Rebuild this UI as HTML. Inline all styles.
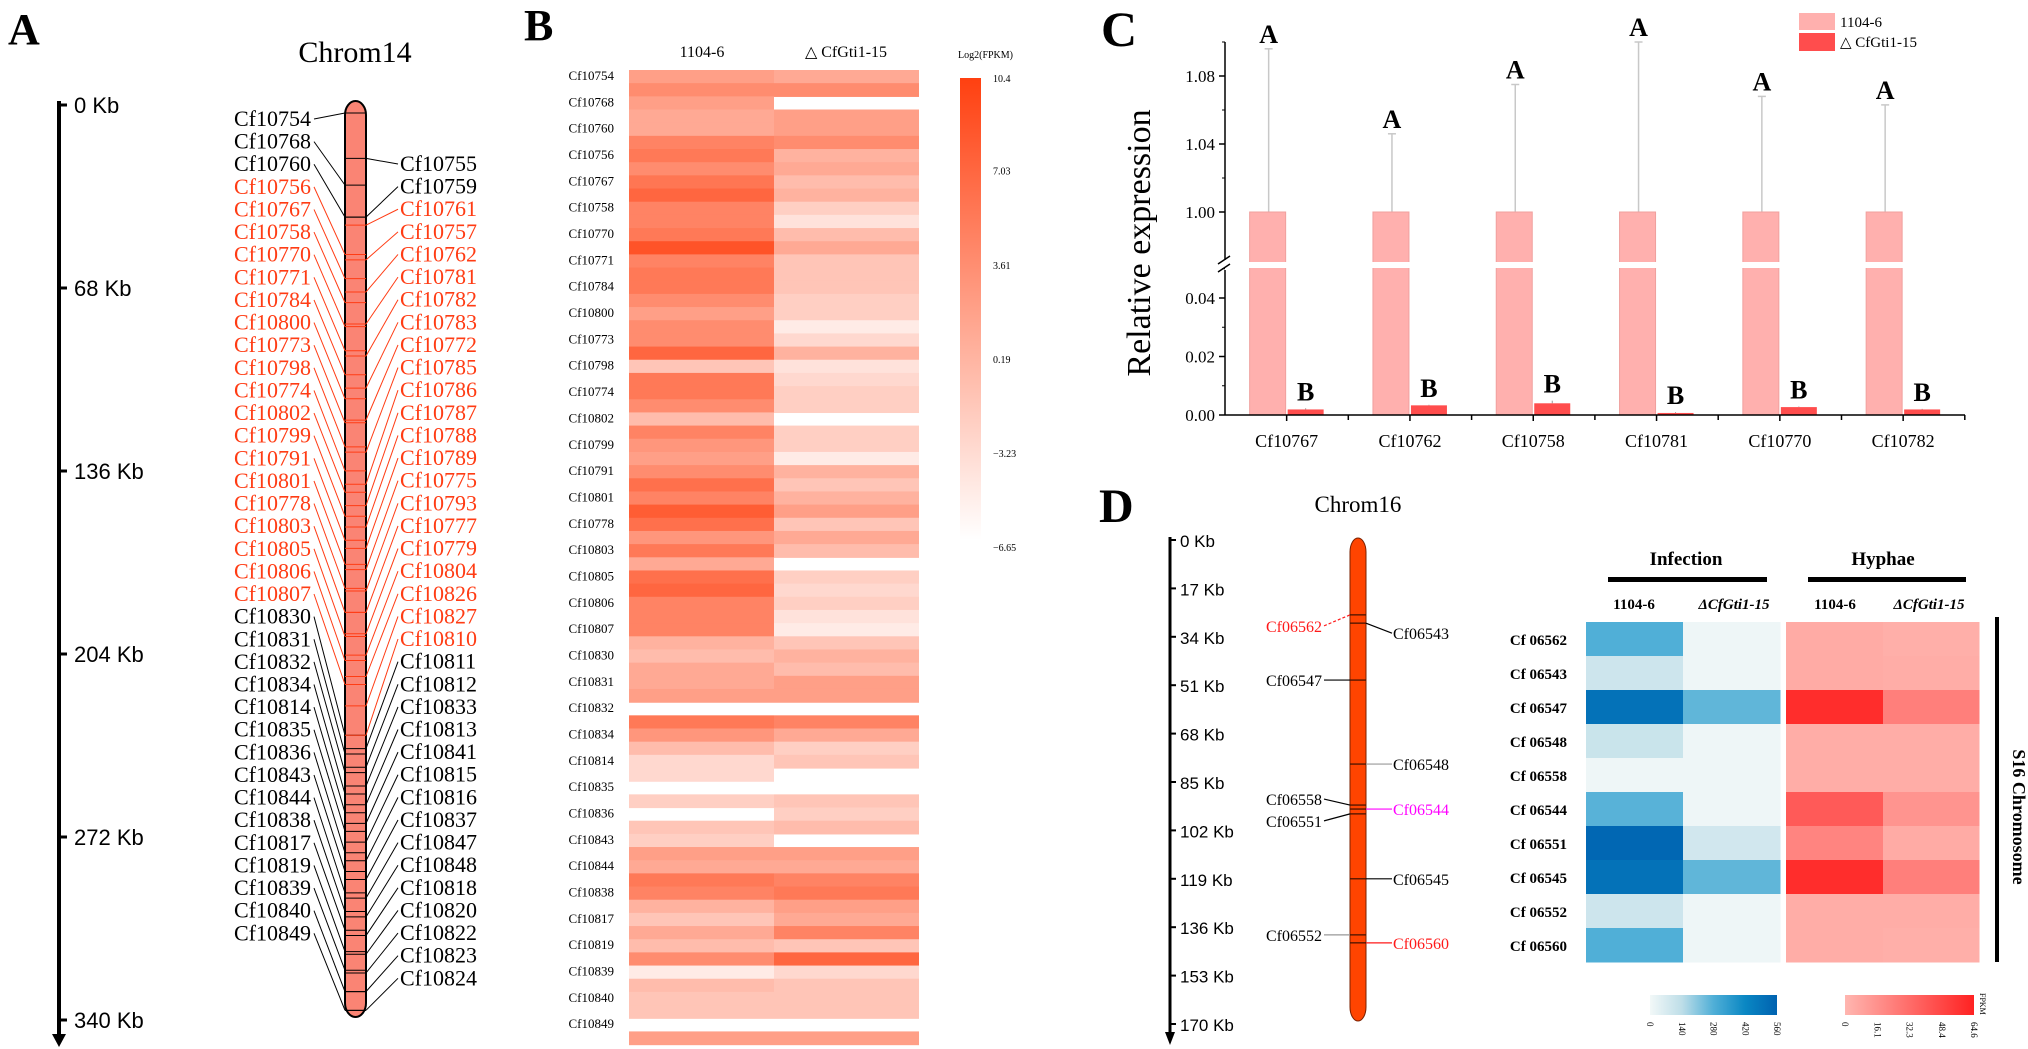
<!DOCTYPE html>
<html><head><meta charset="utf-8"><title>Chromosome gene cluster figure</title>
<style>
html,body{margin:0;padding:0;background:#fff;}
svg{display:block;font-family:"Liberation Serif",serif;}
.sans{font-family:"Liberation Sans","DejaVu Sans",sans-serif;}
</style></head>
<body>
<svg id="fig" width="2028" height="1049" viewBox="0 0 2028 1049" xmlns="http://www.w3.org/2000/svg">
<rect width="2028" height="1049" fill="#fff"/>
<g id="pA"></g>
<g id="pB"></g>
<g id="pC"></g>
<g id="pD"></g>
</svg>
<script>
// ---------- Panel A data ----------
const aTicks = [0, 68, 136, 204, 272, 340];
const aLeftGenes = ["Cf10754","Cf10768","Cf10760","Cf10756","Cf10767","Cf10758","Cf10770","Cf10771","Cf10784","Cf10800","Cf10773","Cf10798","Cf10774","Cf10802","Cf10799","Cf10791","Cf10801","Cf10778","Cf10803","Cf10805","Cf10806","Cf10807","Cf10830","Cf10831","Cf10832","Cf10834","Cf10814","Cf10835","Cf10836","Cf10843","Cf10844","Cf10838","Cf10817","Cf10819","Cf10839","Cf10840","Cf10849"];
const aLeftKb = [3,30,42,56,65,74,83,92,101,110,119,128,137,145,154,163,172,181,190,199,208,217,236,243,250,258,265,272,280,287,295,302,309,317,324,332,339];
const aLeftRed = [0,0,0,1,1,1,1,1,1,1,1,1,1,1,1,1,1,1,1,1,1,1,0,0,0,0,0,0,0,0,0,0,0,0,0,0,0];
const aRightGenes = ["Cf10755","Cf10759","Cf10761","Cf10757","Cf10762","Cf10781","Cf10782","Cf10783","Cf10772","Cf10785","Cf10786","Cf10787","Cf10788","Cf10789","Cf10775","Cf10793","Cf10777","Cf10779","Cf10804","Cf10826","Cf10827","Cf10810","Cf10811","Cf10812","Cf10833","Cf10813","Cf10841","Cf10815","Cf10816","Cf10837","Cf10847","Cf10848","Cf10818","Cf10820","Cf10822","Cf10823","Cf10824"];
const aRightKb = [20,42,45,58,70,82,94,106,118,130,142,150,158,166,174,182,190,198,206,214,225,236,241,248,255,262,269,276,283,290,297,304,311,318,325,332,339];
const aRightRed = [0,0,1,1,1,1,1,1,1,1,1,1,1,1,1,1,1,1,1,1,1,1,0,0,0,0,0,0,0,0,0,0,0,0,0,0,0];

// ---------- Panel B data (log2 FPKM, null = missing) ----------
const bLabels = ["Cf10754","Cf10768","Cf10760","Cf10756","Cf10767","Cf10758","Cf10770","Cf10771","Cf10784","Cf10800","Cf10773","Cf10798","Cf10774","Cf10802","Cf10799","Cf10791","Cf10801","Cf10778","Cf10803","Cf10805","Cf10806","Cf10807","Cf10830","Cf10831","Cf10832","Cf10834","Cf10814","Cf10835","Cf10836","Cf10843","Cf10844","Cf10838","Cf10817","Cf10819","Cf10839","Cf10840","Cf10849"];
const bWT = [1.9,3.6,1.9,1.0,1.0,4.4,5.3,3.6,5.6,7.0,4.4,4.4,5.3,8.7,4.4,5.3,5.3,3.6,1.9,3.6,3.6,7.0,-1.5,5.3,5.3,3.6,-0.7,4.4,2.7,1.9,3.6,6.1,4.4,7.8,6.1,2.7,5.3,1.0,6.1,7.0,4.4,4.4,4.4,0.2,-0.7,1.0,1.0,1.9,null,5.3,2.7,-0.7,-3.2,-3.2,null,-2.4,null,-1.5,-2.4,1.9,1.0,5.3,4.4,0.2,-1.5,1.0,-0.7,3.6,-4.9,-0.7,-1.5,-1.5,null,1.9];
const bMut = [1.0,3.6,null,1.9,1.9,3.6,0.2,1.0,-0.7,0.2,-2.4,-4.1,-0.7,1.0,-1.5,-1.5,-1.5,-2.4,-2.4,-4.9,-3.2,0.2,-4.1,-3.2,-2.4,-2.4,null,-2.4,-2.4,-4.9,0.2,-1.5,0.2,1.9,-1.5,1.0,-0.7,null,-2.4,-3.2,-2.4,-4.1,-4.9,-1.5,0.2,-0.7,1.9,1.9,null,4.4,1.0,-2.4,-1.5,null,null,-1.5,-2.4,-0.7,null,1.9,1.0,4.4,5.3,1.9,1.0,4.4,-1.5,7.0,-3.2,-1.5,-1.5,-1.5,null,1.9];
const bScaleTicks = [10.4, 7.03, 3.61, 0.19, -3.23, -6.65];

// ---------- Panel C data ----------
const cGenes = ["Cf10767","Cf10762","Cf10758","Cf10781","Cf10770","Cf10782"];
const cWT = [1,1,1,1,1,1];
const cWTErr = [0.096,0.046,0.075,0.100,0.068,0.063];
const cMut = [0.0019,0.0033,0.0040,0.0007,0.0027,0.0019];
const cMutErr = [0.0004,0.0002,0.0009,0.0003,0.0002,0.0002];
const cUpperTicks = [1.00, 1.04, 1.08];
const cLowerTicks = [0.00, 0.02, 0.04];

// ---------- Panel D data ----------
const dTicks = [0,17,34,51,68,85,102,119,136,153,170];
const dGenes = ["Cf06562","Cf06543","Cf06547","Cf06548","Cf06558","Cf06544","Cf06551","Cf06545","Cf06552","Cf06560"];
const dKb = [26.3,29.2,49.2,78.7,93.1,94.5,96.2,119,138.7,141.5];
const dSide = ["L","R","L","R","L","R","L","R","L","R"];
const dColor = ["#ff1a1a","#000","#000","#000","#000","#ff00ff","#000","#000","#000","#ff1a1a"];
const dRows = ["Cf 06562","Cf 06543","Cf 06547","Cf 06548","Cf 06558","Cf 06544","Cf 06551","Cf 06545","Cf 06552","Cf 06560"];
const dInfWT = [280,100,500,110,10,270,540,500,100,280];
const dInfMut = [10,10,260,10,10,10,90,260,10,10];
const dHypWT = [5,5,60,4,4,40,22,60,4,4];
const dHypMut = [3,4,24,4,4,15,5,24,4,3];
const dBlueTicks = ["0","140","280","420","560"];
const dRedTicks = ["0","16.1","32.3","48.4","64.6"];

const NS = "http://www.w3.org/2000/svg";
function mk(parent, tag, attrs, txt){
  const e = document.createElementNS(NS, tag);
  for (const k in attrs) e.setAttribute(k, attrs[k]);
  if (txt !== undefined) e.textContent = txt;
  parent.appendChild(e);
  return e;
}
let el;

// ================= Panel A =================
(function(){
  const g = document.getElementById('pA');
  el = mk(g,'text',{x:8,y:44,'font-size':44,'font-weight':'bold'},'A');
  
  
  el = mk(g,'text',{x:355,y:62,'font-size':30,'text-anchor':'middle'},'Chrom14');
  
  
  const y0 = 105, y1 = 1020, kmax = 340;
  const ys = k => y0 + k/kmax*(y1-y0);
  el = mk(g,'line',{x1:59,y1:101,x2:59,y2:1038,stroke:'#000','stroke-width':4});
  
  
  el = mk(g,'path',{d:'M52,1034 L66,1034 L59,1047 Z',fill:'#000'});
  
  
  aTicks.forEach(t=>{
    el = mk(g,'line',{x1:57,y1:ys(t),x2:67,y2:ys(t),stroke:'#000','stroke-width':3});
    
    
    el = mk(g,'text',{x:74,y:ys(t)+8,'font-size':22,class:'sans'},t+' Kb');
    
    
  });
  const cx0 = 345, cx1 = 366, cy0 = 101, cy1 = 1017;
  const yc = k => cy0 + 4 + k/kmax*(cy1-cy0-8);
  el = mk(g,'rect',{x:cx0,y:cy0,width:cx1-cx0,height:cy1-cy0,rx:10.5,ry:14,fill:'#fa8474',stroke:'#000','stroke-width':2});
  
  
  aLeftGenes.forEach((n,i)=>{
    const yl = 123 + 22.62*i, yk = yc(aLeftKb[i]);
    const col = aLeftRed[i] ? '#ff3c14' : '#000';
    el = mk(g,'line',{x1:cx0,y1:yk,x2:cx1,y2:yk,stroke:col,'stroke-width':1});
    
    
    el = mk(g,'line',{x1:314,y1:yl-4,x2:cx0,y2:yk,stroke:col,'stroke-width':1});
    
    
    el = mk(g,'text',{x:311,y:yl+3,'font-size':22,'text-anchor':'end',fill:col},n);
    
    
  });
  aRightGenes.forEach((n,i)=>{
    const yr = 168 + 22.62*i, yk = yc(aRightKb[i]);
    const col = aRightRed[i] ? '#ff3c14' : '#000';
    el = mk(g,'line',{x1:cx0,y1:yk,x2:cx1,y2:yk,stroke:col,'stroke-width':1});
    
    
    el = mk(g,'line',{x1:cx1,y1:yk,x2:398,y2:yr-4,stroke:col,'stroke-width':1});
    
    
    el = mk(g,'text',{x:400,y:yr+3,'font-size':22,fill:col},n);
    
    
  });
})();

// ================= Panel B =================
(function(){
  const g = document.getElementById('pB');
  el = mk(g,'text',{x:524,y:40,'font-size':44,'font-weight':'bold'},'B');
  
  
  el = mk(g,'text',{x:702,y:57,'font-size':16,'text-anchor':'middle'},'1104-6');
  
  
  el = mk(g,'text',{x:846,y:57,'font-size':16,'text-anchor':'middle'},'△ CfGti1-15');
  
  
  const x0 = 629, xm = 774, x1 = 919, top = 70, rh = 13.17;
  const vmin = -6.65, vmax = 10.4;
  const colr = v => { const t = Math.max(0,Math.min(1,(v-vmin)/(vmax-vmin)));
    return `rgb(255,${Math.round(255-191*t)},${Math.round(255-239*t)})`; };
  bWT.forEach((v,i)=>{
    if (v===null) return;
    el = mk(g,'rect',{x:x0,y:top+i*rh,width:xm-x0,height:rh+0.6,fill:colr(v)});
    
    
  });
  bMut.forEach((v,i)=>{
    if (v===null) return;
    el = mk(g,'rect',{x:xm,y:top+i*rh,width:x1-xm,height:rh+0.6,fill:colr(v)});
    
    
  });
  bLabels.forEach((n,i)=>{
    el = mk(g,'text',{x:614,y:top+i*2*rh+10,'font-size':13,'text-anchor':'end'},n);
    
    
  });
  const defs = mk(g,'defs',{});
  const lg = mk(defs,'linearGradient',{id:'bgrad',x1:0,y1:0,x2:0,y2:1});
  mk(lg,'stop',{offset:'0','stop-color':colr(vmax)});
  mk(lg,'stop',{offset:'0.5','stop-color':colr((vmax+vmin)/2)});
  mk(lg,'stop',{offset:'1','stop-color':colr(vmin)});
  const cb0 = 78, cb1 = 540;
  el = mk(g,'rect',{x:960,y:cb0,width:21,height:cb1-cb0,fill:'url(#bgrad)'});
  
  
  el = mk(g,'text',{x:958,y:58,'font-size':10},'Log2(FPKM)');
  
  
  bScaleTicks.forEach(t=>{
    const y = cb0 + (vmax-t)/(vmax-vmin)*(547-cb0);
    el = mk(g,'text',{x:993,y:y+4,'font-size':10},t<0?('−'+Math.abs(t)):String(t));
    
    
  });
})();

// ================= Panel C =================
(function(){
  const g = document.getElementById('pC');
  el = mk(g,'text',{x:1101,y:46,'font-size':50,'font-weight':'bold'},'C');
  
  
  const ax = 1225, base = 415, brkY = 265;
  const yU = v => 212 - (v-1)*1700;
  const yL = v => 415 - v*2925;
  const yv = v => v > 0.5 ? yU(v) : yL(v);
  const gx0 = 1225, gw = 123.3;
  cGenes.forEach((n,i)=>{
    const c = gx0 + gw*(i+0.5);
    el = mk(g,'line',{x1:c-18,y1:yv(cWT[i]),x2:c-18,y2:yv(cWT[i]+cWTErr[i]),stroke:'#c8c8c8','stroke-width':1.5});
    
    
    el = mk(g,'line',{x1:c-22,y1:yv(cWT[i]+cWTErr[i]),x2:c-14,y2:yv(cWT[i]+cWTErr[i]),stroke:'#c8c8c8','stroke-width':1.5});
    
    
    el = mk(g,'rect',{x:c-37,y:yv(cWT[i]),width:36,height:base-yv(cWT[i]),fill:'#ffb0ae',stroke:'#f0a09e','stroke-width':1});
    
    
    el = mk(g,'rect',{x:c-38,y:brkY-3,width:38,height:6,fill:'#fff'});
    
    
    el = mk(g,'text',{x:c-18,y:yv(cWT[i]+cWTErr[i])-6,'font-size':26,'font-weight':'bold','text-anchor':'middle'},'A');
    
    
    el = mk(g,'line',{x1:c+19,y1:yL(cMut[i]),x2:c+19,y2:yL(cMut[i]+cMutErr[i]),stroke:'#999','stroke-width':1});
    
    
    el = mk(g,'rect',{x:c+1,y:yL(cMut[i]),width:36,height:base-yL(cMut[i]),fill:'#ff4d4d'});
    
    
    el = mk(g,'text',{x:c+19,y:yL(cMut[i]+cMutErr[i])-8,'font-size':26,'font-weight':'bold','text-anchor':'middle'},'B');
    
    
    el = mk(g,'text',{x:c,y:447,'font-size':18,'text-anchor':'middle'},n);
    
    
    el = mk(g,'line',{x1:c,y1:base,x2:c,y2:base+6,stroke:'#000','stroke-width':1.5});
    
    
    el = mk(g,'line',{x1:gx0+gw*(i+1),y1:base,x2:gx0+gw*(i+1),y2:base+5,stroke:'#000','stroke-width':1.5});
    
    
  });
  el = mk(g,'line',{x1:ax,y1:42,x2:ax,y2:brkY-5,stroke:'#000','stroke-width':1.5});
  
  
  el = mk(g,'line',{x1:ax,y1:brkY+5,x2:ax,y2:base,stroke:'#000','stroke-width':1.5});
  
  
  el = mk(g,'path',{d:`M${ax-7},${brkY-1} L${ax+5},${brkY-9} M${ax-7},${brkY+7} L${ax+5},${brkY-1}`,stroke:'#000','stroke-width':1.5,fill:'none'});
  
  
  el = mk(g,'line',{x1:ax,y1:base,x2:1965,y2:base,stroke:'#000','stroke-width':1.5});
  
  
  cUpperTicks.forEach(t=>{
    el = mk(g,'line',{x1:ax-6,y1:yU(t),x2:ax,y2:yU(t),stroke:'#000','stroke-width':1.5});
    
    
    el = mk(g,'line',{x1:ax-3,y1:yU(t+0.02),x2:ax,y2:yU(t+0.02),stroke:'#000','stroke-width':1});
    
    
    el = mk(g,'text',{x:ax-10,y:yU(t)+6,'font-size':17,'text-anchor':'end'},t.toFixed(2));
    
    
  });
  cLowerTicks.forEach(t=>{
    el = mk(g,'line',{x1:ax-6,y1:yL(t),x2:ax,y2:yL(t),stroke:'#000','stroke-width':1.5});
    
    
    el = mk(g,'line',{x1:ax-3,y1:yL(t+0.01),x2:ax,y2:yL(t+0.01),stroke:'#000','stroke-width':1});
    
    
    el = mk(g,'text',{x:ax-10,y:yL(t)+6,'font-size':17,'text-anchor':'end'},t.toFixed(2));
    
    
  });
  el = mk(g,'text',{x:0,y:0,'font-size':34,'text-anchor':'middle',transform:'translate(1150,243) rotate(-90)'},'Relative expression');
  
  
  el = mk(g,'rect',{x:1799,y:13,width:36,height:17,fill:'#ffb0ae'});
  
  
  el = mk(g,'text',{x:1840,y:27,'font-size':15},'1104-6');
  
  
  el = mk(g,'rect',{x:1799,y:33,width:36,height:18,fill:'#ff4d4d'});
  
  
  el = mk(g,'text',{x:1840,y:47,'font-size':15},'△ CfGti1-15');
  
  
})();

// ================= Panel D =================
(function(){
  const g = document.getElementById('pD');
  el = mk(g,'text',{x:1099,y:522,'font-size':48,'font-weight':'bold'},'D');
  
  
  el = mk(g,'text',{x:1358,y:512,'font-size':23,'text-anchor':'middle'},'Chrom16');
  
  
  const ky = k => 540 + k*2.847;
  el = mk(g,'line',{x1:1170,y1:537,x2:1170,y2:1036,stroke:'#000','stroke-width':3});
  
  
  el = mk(g,'path',{d:'M1165,1032 L1175,1032 L1170,1045 Z',fill:'#000'});
  
  
  dTicks.forEach(t=>{
    el = mk(g,'line',{x1:1170,y1:ky(t),x2:1176,y2:ky(t),stroke:'#000','stroke-width':2});
    
    
    el = mk(g,'text',{x:1180,y:ky(t)+7,'font-size':17,class:'sans'},t+' Kb');
    
    
  });
  el = mk(g,'rect',{x:1350,y:538,width:16,height:483,rx:8,ry:14,fill:'#ff4400',stroke:'#7a2000','stroke-width':1});
  
  
  const lblOff = [11,10,0,0,-6,0,7,0,0,0];
  dGenes.forEach((n,i)=>{
    const y = ky(dKb[i]), col = dColor[i];
    const lc = (i===3||i===8) ? '#999' : col;
    el = mk(g,'line',{x1:1350,y1:y,x2:1366,y2:y,stroke:'#3a1000','stroke-width':1.2});
    
    
    const ly = y + lblOff[i];
    if (dSide[i]==='L'){
      el = mk(g,'line',{x1:1324,y1:ly,x2:1350,y2:y,stroke:lc,'stroke-width':1.2,'stroke-dasharray':i===0?'3,2':'none'});
      
      
      el = mk(g,'text',{x:1322,y:ly+6,'font-size':16,'text-anchor':'end',fill:col},n);
      
      
    } else {
      el = mk(g,'line',{x1:1366,y1:y,x2:1392,y2:ly,stroke:lc,'stroke-width':1.2});
      
      
      el = mk(g,'text',{x:1393,y:ly+6,'font-size':16,fill:col},n);
      
      
    }
  });
  const top = 622, rh = 34;
  const lerp = (a,b,t)=>a.map((v,j)=>Math.round(v+(b[j]-v)*t));
  const blueStops = [[242,248,248],[190,222,232],[80,175,215],[10,135,195],[0,98,176]];
  const blue = v => { const t = Math.max(0,Math.min(1,v/560))*4, k = Math.min(3,Math.floor(t));
    const c = lerp(blueStops[k],blueStops[k+1],t-k); return `rgb(${c})`; };
  const red = v => { const t = Math.max(0,Math.min(1,v/64.6)); const c = lerp([255,182,176],[255,34,34],t); return `rgb(${c})`; };
  const cols = [[1586,97,dInfWT,blue],[1683,97,dInfMut,blue],[1786,97,dHypWT,red],[1883,96,dHypMut,red]];
  const cnames = ['heat-cell-infection-wt','heat-cell-infection-mutant','heat-cell-hyphae-wt','heat-cell-hyphae-mutant'];
  cols.forEach((c,ci)=>{
    c[2].forEach((v,i)=>{
      el = mk(g,'rect',{x:c[0],y:top+i*rh,width:c[1]+0.5,height:rh+0.5,fill:c[3](v)});
      
      
    });
  });
  dRows.forEach((n,i)=>{
    el = mk(g,'text',{x:1567,y:top+i*rh+23,'font-size':15,'font-weight':'bold','text-anchor':'end'},n);
    
    
  });
  el = mk(g,'text',{x:1686,y:565,'font-size':19,'font-weight':'bold','text-anchor':'middle'},'Infection');
  
  
  el = mk(g,'rect',{x:1608,y:577,width:159,height:5,fill:'#000'});
  
  
  el = mk(g,'text',{x:1883,y:565,'font-size':19,'font-weight':'bold','text-anchor':'middle'},'Hyphae');
  
  
  el = mk(g,'rect',{x:1808,y:577,width:158,height:5,fill:'#000'});
  
  
  [[1634,'1104-6',0],[1734,'ΔCfGti1-15',1],[1835,'1104-6',0],[1929,'ΔCfGti1-15',1]].forEach(h=>{
    el = mk(g,'text',{x:h[0],y:609,'font-size':15,'font-weight':'bold','font-style':h[2]?'italic':'normal','text-anchor':'middle'},h[1]);
    
    
  });
  el = mk(g,'rect',{x:1995,y:617,width:4,height:345,fill:'#000'});
  
  
  el = mk(g,'text',{x:0,y:0,'font-size':18,'font-weight':'bold','text-anchor':'middle',transform:'translate(2013,817) rotate(90)'},'S16 Chromosome');
  
  
  const defs = mk(g,'defs',{});
  const lb = mk(defs,'linearGradient',{id:'dblue',x1:0,y1:0,x2:1,y2:0});
  blueStops.forEach((s,i)=>mk(lb,'stop',{offset:String(i/4),'stop-color':`rgb(${s})`}));
  const lr = mk(defs,'linearGradient',{id:'dred',x1:0,y1:0,x2:1,y2:0});
  mk(lr,'stop',{offset:'0','stop-color':red(0)}); mk(lr,'stop',{offset:'1','stop-color':red(64.6)});
  el = mk(g,'rect',{x:1650,y:995,width:127,height:20,fill:'url(#dblue)'});
  
  
  el = mk(g,'rect',{x:1845,y:995,width:129,height:20,fill:'url(#dred)'});
  
  
  dBlueTicks.forEach((t,i)=>{
    el = mk(g,'text',{x:0,y:0,'font-size':9,transform:`translate(${1650+i*31.75-3},1022) rotate(90)`},t);
    
    
  });
  dRedTicks.forEach((t,i)=>{
    el = mk(g,'text',{x:0,y:0,'font-size':9,transform:`translate(${1845+i*32.25-3},1022) rotate(90)`},t);
    
    
  });
  el = mk(g,'text',{x:0,y:0,'font-size':8,transform:'translate(1980,993) rotate(90)'},'FPKM');
  
  
})();
</script>
</body></html>
